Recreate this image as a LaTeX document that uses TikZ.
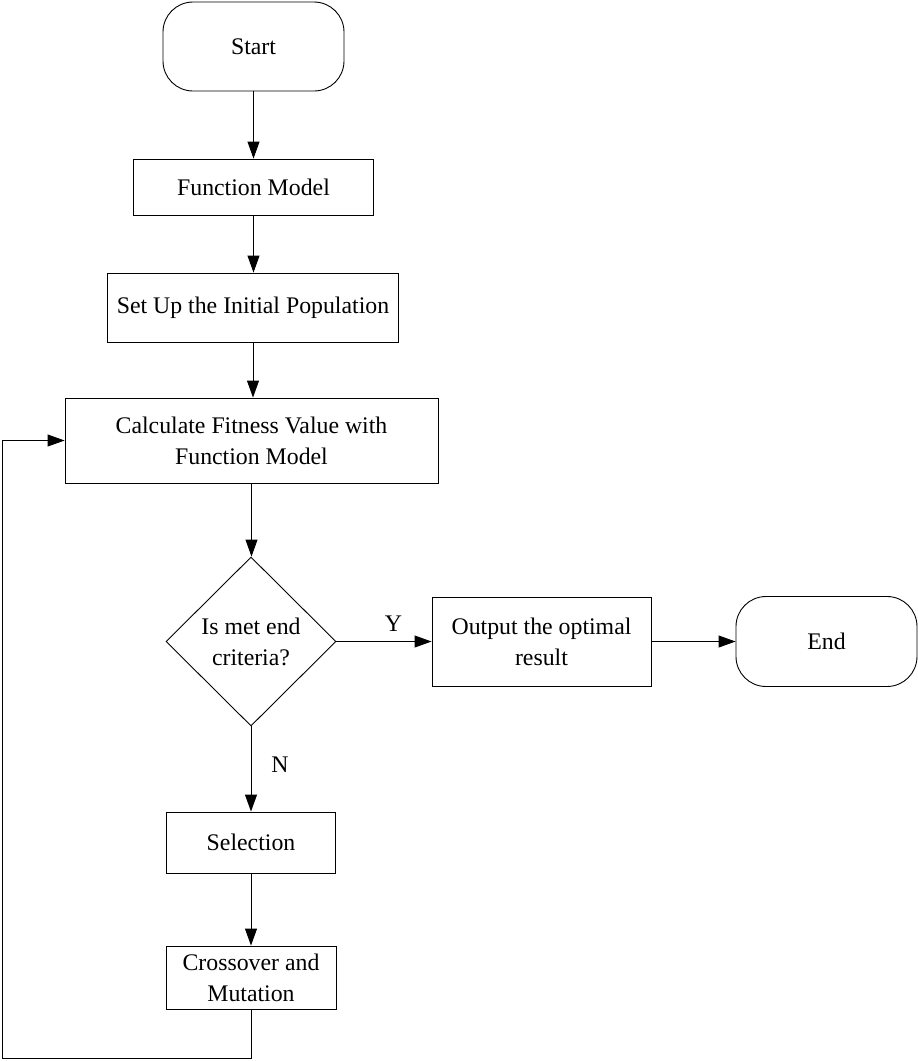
\documentclass[tikz,border=0pt]{standalone}
\usepackage{fontspec}
\setmainfont{Liberation Serif}
\usetikzlibrary{shapes.geometric,arrows.meta}
\begin{document}
\begin{tikzpicture}[x=1pt,y=-1pt,
  every node/.style={font=\fontsize{23.8}{31}\selectfont, align=center, inner sep=0pt},
  procbox/.style={draw, line width=0.9pt, rectangle},
  termbox/.style={draw, line width=0.9pt, rectangle, rounded corners=30pt},
  decbox/.style={draw, line width=0.9pt, diamond, minimum width=170pt, minimum height=169pt},
  flow/.style={line width=0.9pt, -{Triangle[length=17pt, width=12pt]}},
  lbl/.style={font=\fontsize{23.8}{31}\selectfont}
]
\useasboundingbox (0,0) rectangle (918,1061);

\node[termbox, minimum width=181pt, minimum height=89pt] (start) at (253.5,46.5) {Start};
\node[procbox, minimum width=240pt, minimum height=56pt] (model) at (253.5,187) {Function Model};
\node[procbox, minimum width=291pt, minimum height=69pt] (init) at (253,307.5) {Set Up the Initial Population};
\node[procbox, minimum width=373pt, minimum height=85pt] (fit) at (251.5,440.5) {Calculate Fitness Value with\\Function Model};
\node[decbox] (crit) at (251,641.5) {Is met end\\criteria?};
\node[procbox, minimum width=219pt, minimum height=89pt] (out) at (541.5,641.5) {Output the optimal\\result};
\node[termbox, minimum width=181pt, minimum height=90pt] (end) at (826.5,641.5) {End};
\node[procbox, minimum width=169pt, minimum height=61pt] (sel) at (251,842.5) {Selection};
\node[procbox, minimum width=170pt, minimum height=63pt] (cross) at (251,977.5) {Crossover and\\Mutation};

\coordinate (back) at (2,1058);

\draw[flow] (start.south) -- (start.south |- model.north);
\draw[flow] (model.south) -- (model.south |- init.north);
\draw[flow] (init.south) -- (init.south |- fit.north);
\draw[flow] (fit.south) -- (fit.south |- crit.north);
\draw[flow] (crit.east) -- (out.west) node[lbl, pos=0.6, above=10pt] {Y};
\draw[flow] (out.east) -- (end.west);
\draw[flow] (crit.south) -- (sel.north) node[lbl, pos=0.45, right=20pt] {N};
\draw[flow] (sel.south) -- (cross.north);
\draw[flow] (cross.south) |- (back) |- (fit.west);
\end{tikzpicture}
\end{document}
